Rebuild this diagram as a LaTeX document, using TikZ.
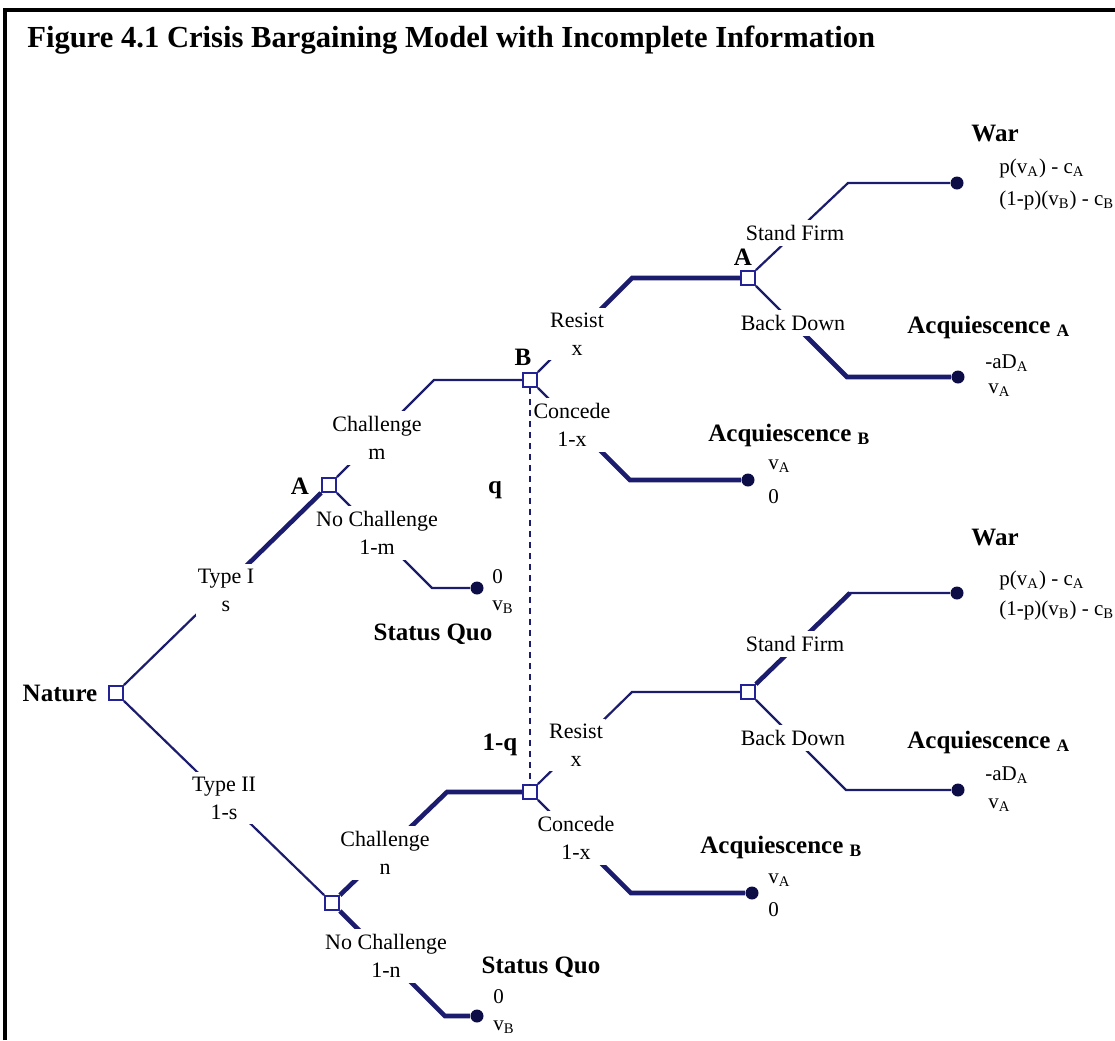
\documentclass[tikz,border=0pt]{standalone}
\usepackage{fontspec}
\setmainfont{Liberation Serif}
\usetikzlibrary{calc}

\definecolor{navy}{RGB}{28,28,110}
\definecolor{boxblue}{RGB}{35,35,150}
\definecolor{dotnavy}{RGB}{12,12,70}

\tikzset{
  edge/.style={navy, line width=1.1pt},
  bold edge/.style={navy, line width=2.3pt},
  choice/.style={draw=boxblue, fill=white, line width=0.9pt, minimum size=7pt, inner sep=0pt},
  endpt/.style={circle, fill=dotnavy, minimum size=6.5pt, inner sep=0pt},
  move/.style={fill=white, inner xsep=1pt, inner ysep=2.5pt, align=center, font=\fontsize{11}{14}\selectfont},
  player/.style={inner sep=0pt, font=\fontsize{12.5}{15}\selectfont\bfseries},
  payoff/.style={anchor=west, inner sep=0pt, font=\fontsize{10.5}{13}\selectfont},
}

\begin{document}
\begin{tikzpicture}[x=0.5pt, y=-0.5pt]
\useasboundingbox (0,0) rectangle (1115,1040);

% Frame and title
\draw[line width=2pt] (5,1040) -- (5,10) -- (1115,10);
\node[anchor=west, inner sep=0pt, font=\fontsize{15.3}{18}\selectfont\bfseries] (title) at (27,40) {Figure 4.1 Crisis Bargaining Model with Incomplete Information};

% Decision nodes
\node[choice] (nat) at (116,693) {};
\node[choice] (a1) at (329,485) {};
\node[choice] (b1) at (530,380) {};
\node[choice] (a2) at (748,278) {};
\node[choice] (a3) at (332,903) {};
\node[choice] (b2) at (530,792) {};
\node[choice] (a4) at (748,692) {};

% Terminal nodes
\node[endpt] (war1) at (957,183) {};
\node[endpt] (acqa1) at (958,377) {};
\node[endpt] (acqb1) at (748,480) {};
\node[endpt] (sq1) at (477,588) {};
\node[endpt] (war2) at (957,593) {};
\node[endpt] (acqa2) at (958,790) {};
\node[endpt] (acqb2) at (752,893) {};
\node[endpt] (sq2) at (477,1016) {};

% Bends where a move turns level
\coordinate (kchm) at (434,380);
\coordinate (kncm) at (432,588);
\coordinate (krs1) at (632,278);
\coordinate (kcc1) at (630,480);
\coordinate (ksf1) at (848,183);
\coordinate (kbd1) at (847,377);
\coordinate (kchn) at (447,792);
\coordinate (kncn) at (445,1016);
\coordinate (krs2) at (632,692);
\coordinate (kcc2) at (631,893);
\coordinate (ksf2) at (850,593);
\coordinate (kbd2) at (846,790);

% Moves
\draw[edge] (nat.north east) -- (a1.south west);
\draw[edge] (nat.south east) -- (a3.north west);
\foreach \p/\k/\c in {a1.north east/kchm/b1.west,a1.south east/kncm/sq1,b1.north east/krs1/a2.west,b1.south east/kcc1/acqb1,a2.north east/ksf1/war1,a2.south east/kbd1/acqa1,b2.north east/krs2/a4.west,b2.south east/kcc2/acqb2,a4.north east/ksf2/war2,a4.south east/kbd2/acqa2}
  \draw[edge] (\p) -- (\k) -- (\c);

% Heavier strokes
\draw[bold edge] ($(nat.north east)!.55!(a1.south west)$) -- (a1.south west);
\foreach \p/\k/\c in {b1.north east/krs1/a2.west,b1.south east/kcc1/acqb1,a2.south east/kbd1/acqa1,b2.south east/kcc2/acqb2}
  \draw[bold edge] ($(\p)!.5!(\k)$) -- (\k) -- (\c);
\draw[bold edge] (a3.north east) -- (kchn) -- (b2.west);
\draw[bold edge] (a3.south east) -- (kncn) -- (sq2);
\draw[bold edge] (a4.north east) -- (ksf2);

% Move labels
\node[move] (typeI) at (226,590) {Type I\\s};
\node[move] (typeII) at (224,798) {Type II\\1-s};
\node[move] (chm) at (377,438) {Challenge\\m};
\node[move] (ncm) at (377,533) {No Challenge\\1-m};
\node[move] (rs1) at (577,334) {Resist\\x};
\node[move] (cc1) at (572,425) {Concede\\1-x};
\node[move] (sf1) at (795,233) {Stand Firm};
\node[move] (bd1) at (793,323) {Back Down};
\node[move] (chn) at (385,853) {Challenge\\n};
\node[move] (ncn) at (386,956) {No Challenge\\1-n};
\node[move] (rs2) at (576,745) {Resist\\x};
\node[move] (cc2) at (576,838) {Concede\\1-x};
\node[move] (sf2) at (795,644) {Stand Firm};
\node[move] (bd2) at (793,738) {Back Down};

% Players
\node[player] (natlbl) at (60,693) {Nature};
\node[player] (alblA) at (300,486) {A};
\node[player] (blbl) at (523,357) {B};
\node[player] (alblB) at (743,257) {A};

% Information set
\draw[navy, line width=0.8pt, dash pattern=on 3pt off 2.5pt] (b1.south) -- (b2.north);
\node[player] (qhi) at (495,490) {q};
\node[player] (qlo) at (500,745) {1-q};

% Outcomes, upper half
\node[player] (warhi) at (995,133) {War};
\node[payoff] at (999,168) {p(v\textsubscript{A}) - c\textsubscript{A}};
\node[payoff] at (999,200) {(1-p)(v\textsubscript{B}) - c\textsubscript{B}};
\node[player, anchor=west] (acqahi) at (907,327) {Acquiescence \textsubscript{A}};
\node[payoff] at (985,363) {-aD\textsubscript{A}};
\node[payoff] at (988,390) {v\textsubscript{A}};
\node[player, anchor=west] (acqbhi) at (708,435) {Acquiescence \textsubscript{B}};
\node[payoff] at (768,466) {v\textsubscript{A}};
\node[payoff] at (768,497) {0};
\node[payoff] at (492,577) {0};
\node[payoff] at (492,607) {v\textsubscript{B}};
\node[player] (sqhi) at (433,634) {Status Quo};

% Outcomes, lower half
\node[player] (warlo) at (995,537) {War};
\node[payoff] at (999,580) {p(v\textsubscript{A}) - c\textsubscript{A}};
\node[payoff] at (999,610) {(1-p)(v\textsubscript{B}) - c\textsubscript{B}};
\node[player, anchor=west] (acqalo) at (907,742) {Acquiescence \textsubscript{A}};
\node[payoff] at (985,775) {-aD\textsubscript{A}};
\node[payoff] at (988,805) {v\textsubscript{A}};
\node[player, anchor=west] (acqblo) at (700,847) {Acquiescence \textsubscript{B}};
\node[payoff] at (768,880) {v\textsubscript{A}};
\node[payoff] at (768,910) {0};
\node[payoff] at (493,997) {0};
\node[payoff] at (493,1027) {v\textsubscript{B}};
\node[player] (sqlo) at (541,967) {Status Quo};
\end{tikzpicture}
\end{document}
